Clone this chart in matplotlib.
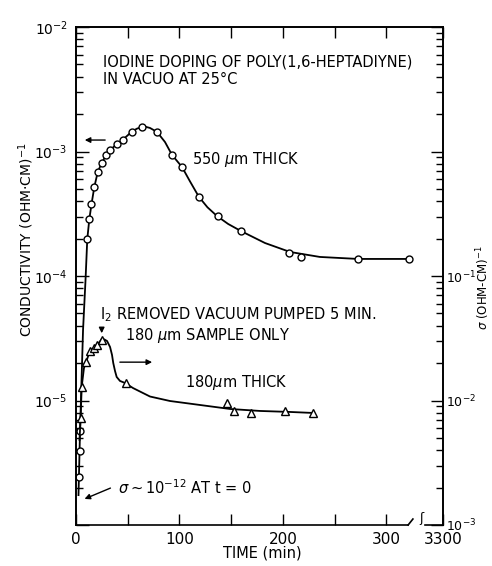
import matplotlib
matplotlib.use("Agg")
import matplotlib.pyplot as plt
import numpy as np
from matplotlib.ticker import FixedLocator, LogLocator, NullFormatter

# 550 um sample, left axis (ohm cm)^-1
thick_t = [2.9, 3.9, 3.9, 10.9, 12.9, 14.8, 17.7, 21.0, 24.8, 29.0, 32.6, 39.9,
           45.1, 53.8, 64.1, 78.0, 92.8, 102.4, 119.1, 136.9, 159.1, 206.1,
           217.7, 272.2, 321.7]
thick_sigma = [2.44e-6, 3.9e-6, 5.7e-6, 1.97e-4, 2.87e-4, 3.79e-4, 5.2e-4, 6.8e-4,
               8.1e-4, 9.3e-4, 1.02e-3, 1.14e-3, 1.24e-3, 1.44e-3, 1.57e-3, 1.44e-3,
               9.4e-4, 7.55e-4, 4.33e-4, 3.05e-4, 2.3e-4, 1.54e-4, 1.43e-4,
               1.37e-4, 1.37e-4]

# hand drawn curve through the 550 um points (log10 sigma)
thick_fit_t = [2.4, 3.9, 6.8, 9.2, 10.9, 12.9, 15.0, 17.7, 21.0, 24.8, 29.0, 32.9,
               39.6, 45.4, 54.1, 59.0, 63.8, 67.5, 71.5, 78.3, 86.0, 92.8, 102.4,
               110.0, 118.8, 127.0, 136.2, 147.0, 159.4, 182.6, 206.8, 235.7,
               272.5, 321.7]
thick_fit_log = [-5.76, -5.245, -4.434, -4.032, -3.703, -3.542, -3.422, -3.285,
                 -3.165, -3.092, -3.031, -2.988, -2.940, -2.904, -2.839, -2.816,
                 -2.803, -2.802, -2.811, -2.843, -2.924, -3.028, -3.124, -3.238,
                 -3.365, -3.448, -3.518, -3.582, -3.639, -3.735, -3.807, -3.847,
                 -3.863, -3.863]

# 180 um sample, right axis
thin_t = [4.5, 5.5, 9.7, 13.5, 17.1, 20.6, 24.8, 48.3, 145.6, 152.7, 168.8,
          201.6, 229.3]
thin_sigma = [7.3e-3, 1.29e-2, 2.03e-2, 2.51e-2, 2.64e-2, 2.77e-2, 3.06e-2,
              1.39e-2, 9.5e-3, 8.2e-3, 7.9e-3, 8.2e-3, 7.9e-3]

thin_fit_t = [3.4, 4.5, 5.5, 7.7, 9.7, 13.5, 17.1, 20.6, 24.8, 27.5, 30.0, 32.9,
              34.8, 36.0, 37.7, 39.3, 42.5, 47.3, 55.1, 71.5, 90.8, 119.8, 148.8,
              177.8, 206.8, 229.0]
thin_fit_log = [-2.317, -2.135, -1.889, -1.739, -1.693, -1.600, -1.578, -1.557,
                -1.506, -1.510, -1.522, -1.570, -1.634, -1.699, -1.763, -1.811,
                -1.843, -1.859, -1.900, -1.968, -2.004, -2.036, -2.068, -2.084,
                -2.092, -2.100]

x_major = [0, 100, 200, 300]
x_minor = [50, 150, 250]
x_right = 354.6

plt.rcParams.update({
    "font.family": ["DejaVu Sans"],
    "font.size": 10.5,
    "mathtext.fontset": "dejavusans",
    "axes.linewidth": 1.2,
})

fig = plt.figure(figsize=(4.92, 5.66), dpi=100)
ax = fig.add_axes([76 / 492, 1 - 525 / 566, 367 / 492, 498 / 566])
ax2 = ax.twinx()

ax.set_xlim(0, x_right)
ax.set_yscale("log")
ax.set_ylim(1e-6, 1e-2)
ax2.set_yscale("log")
ax2.set_ylim(1e-3, 1e1)

ax.plot(thick_fit_t, 10 ** np.array(thick_fit_log), color="black", lw=1.3)
ax.plot(thick_t, thick_sigma, "o", ms=5, mfc="white", mec="black", mew=1.0)
ax2.plot(thin_fit_t, 10 ** np.array(thin_fit_log), color="black", lw=1.3)
ax2.plot(thin_t, thin_sigma, "^", ms=5.5, mfc="white", mec="black", mew=1.0)

# ticks
ax.xaxis.set_major_locator(FixedLocator(x_major + [x_right]))
ax.set_xticklabels([str(v) for v in x_major] + ["3300"], fontsize=11)
ax.xaxis.set_minor_locator(FixedLocator(x_minor))
ax.tick_params(axis="x", which="both", direction="in", length=8, width=1.0,
               top=True, pad=5)
ax.tick_params(axis="y", which="major", direction="in", length=9, width=1.0, pad=6)
ax.tick_params(axis="y", which="minor", direction="in", length=5, width=1.0)
ax2.tick_params(axis="y", which="major", direction="in", length=9, width=1.0, pad=2)
ax2.tick_params(axis="y", which="minor", direction="in", length=5, width=1.0)

ax.yaxis.set_major_locator(FixedLocator([1e-6, 1e-5, 1e-4, 1e-3, 1e-2]))
ax.set_yticklabels(["", r"$10^{-5}$", r"$10^{-4}$", r"$10^{-3}$", r"$10^{-2}$"],
                   fontsize=10)
ax.yaxis.set_minor_locator(LogLocator(base=10, subs=np.arange(2, 10)))
ax.yaxis.set_minor_formatter(NullFormatter())
ax2.yaxis.set_major_locator(FixedLocator([1e-3, 1e-2, 1e-1, 1e0, 1e1]))
ax2.set_yticklabels([r"$10^{-3}$", r"$10^{-2}$", r"$10^{-1}$", "", ""], fontsize=9)
ax2.yaxis.set_minor_locator(LogLocator(base=10, subs=np.arange(2, 10)))
ax2.yaxis.set_minor_formatter(NullFormatter())

# broken bottom axis
ax.spines["bottom"].set_visible(False)
ax2.spines["bottom"].set_visible(False)
kw = dict(transform=ax.transAxes, color="black", lw=1.2, clip_on=False)
ax.plot([0, 0.905], [0, 0], **kw)
ax.plot([0.905, 0.918], [0, 0.012], **kw)
ax.plot([0.95, 1.0], [0, 0], **kw)
ax.text(0.94, 0.0, "ʃ", transform=ax.transAxes, ha="center", va="bottom",
        fontsize=9)

# labels
fig.text(26 / 492, 1 - 240 / 566, r"CONDUCTIVITY (OHM$\cdot$CM)$^{-1}$",
         rotation=90, ha="center", va="center", fontsize=10)
fig.text(483 / 492, 1 - 288 / 566, r"$\sigma$ (OHM-CM)$^{-1}$",
         rotation=90, ha="center", va="center", fontsize=8.5)
fig.text(262 / 492, 1 - 553 / 566, "TIME (min)", ha="center", va="center",
         fontsize=10.5)

ta = ax.transAxes
ax.text(0.0736, 0.930, "IODINE DOPING OF POLY(1,6-HEPTADIYNE)", transform=ta,
        va="center")
ax.text(0.0736, 0.894, "IN VACUO AT 25°C", transform=ta, va="center")
ax.text(0.316, 0.733, r"550 $\mu$m THICK", transform=ta, va="center")
ax.text(0.065, 0.422, r"I$_2$ REMOVED VACUUM PUMPED 5 MIN.", transform=ta,
        va="center")
ax.text(0.1335, 0.3815, r"180 $\mu$m SAMPLE ONLY", transform=ta, va="center")
ax.text(0.297, 0.287, r"180$\mu$m THICK", transform=ta, va="center")
ax.text(0.114, 0.0743, r"$\sigma \sim 10^{-12}$ AT t = 0", transform=ta,
        va="center")

arrow = dict(arrowstyle="-|>", color="black", lw=1.0, mutation_scale=8)
ax.annotate("", xy=(0.0163, 0.773), xytext=(0.087, 0.773), xycoords=ta,
            textcoords=ta, arrowprops=arrow)
ax.annotate("", xy=(0.215, 0.327), xytext=(0.112, 0.327), xycoords=ta,
            textcoords=ta, arrowprops=arrow)
ax.annotate("", xy=(0.070, 0.3795), xytext=(0.070, 0.4016), xycoords=ta,
            textcoords=ta, arrowprops=arrow)
ax.annotate("", xy=(0.0163, 0.0502), xytext=(0.1008, 0.0763), xycoords=ta,
            textcoords=ta, arrowprops=arrow)

fig.savefig("out.png", dpi=100)
